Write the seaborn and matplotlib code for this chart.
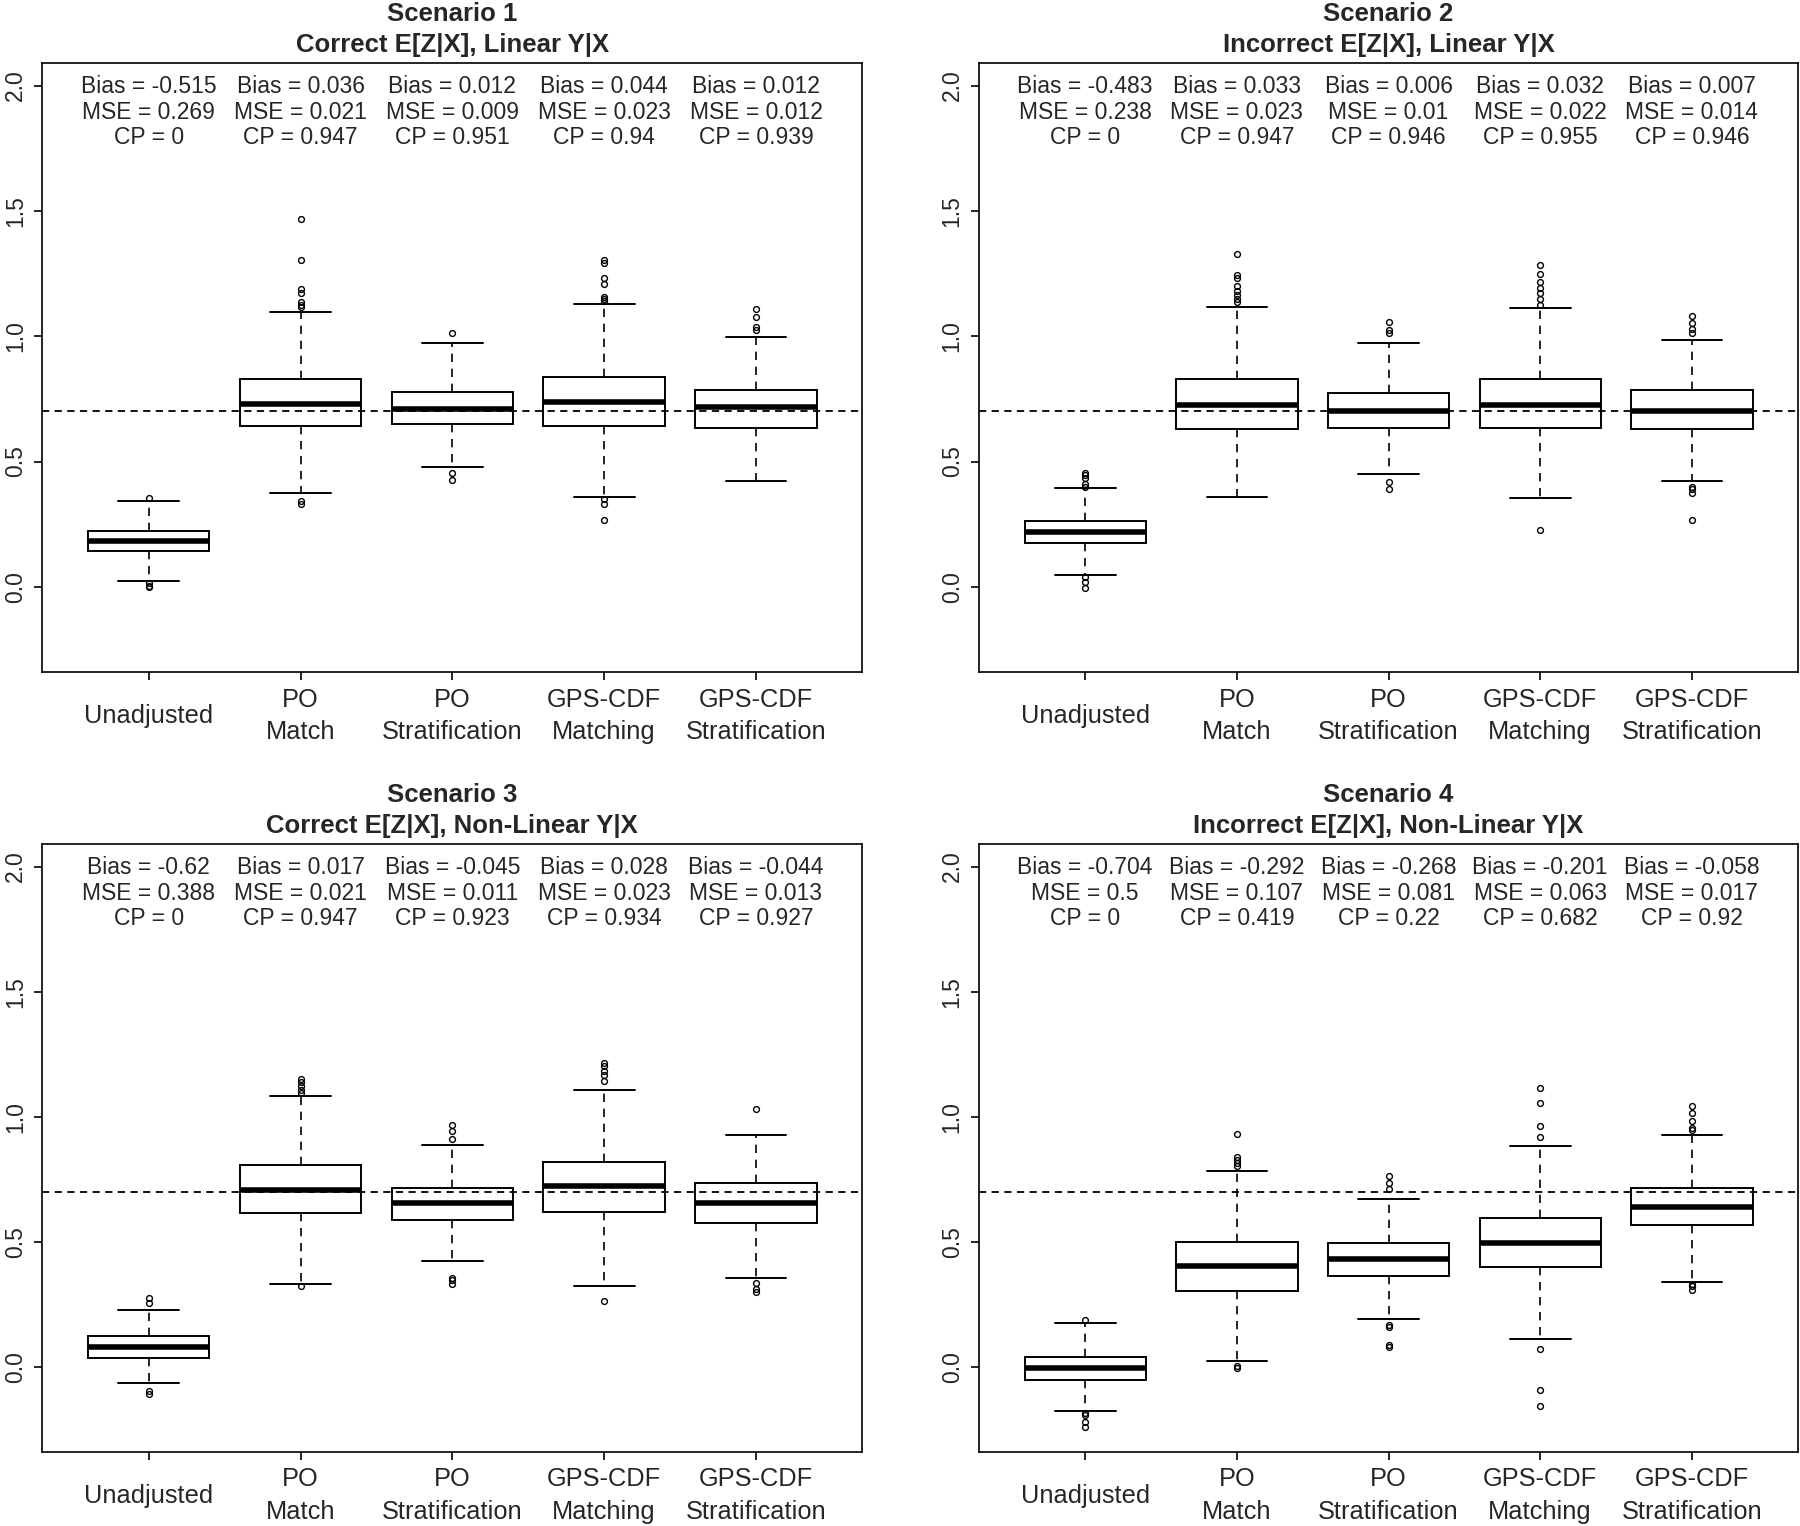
import matplotlib
matplotlib.use("Agg")
import matplotlib.pyplot as plt
import seaborn as sns

# methods compared in every panel
methods = ["Unadjusted", "PO\nMatch", "PO\nStratification",
           "GPS-CDF\nMatching", "GPS-CDF\nStratification"]

scenario_names = ["Scenario 1", "Scenario 2", "Scenario 3", "Scenario 4"]
scenario_desc = [
    "Correct E[Z|X], Linear Y|X",
    "Incorrect E[Z|X], Linear Y|X",
    "Correct E[Z|X], Non-Linear Y|X",
    "Incorrect E[Z|X], Non-Linear Y|X",
]

true_effect = 0.7

# box statistics (one row per scenario, one value per method)
whisker_low = [
    [0.024, 0.373, 0.480, 0.360, 0.423],
    [0.049, 0.360, 0.449, 0.355, 0.423],
    [-0.065, 0.333, 0.422, 0.322, 0.354],
    [-0.177, 0.024, 0.191, 0.111, 0.341],
]
q1 = [
    [0.144, 0.641, 0.648, 0.641, 0.633],
    [0.174, 0.629, 0.635, 0.635, 0.629],
    [0.036, 0.615, 0.589, 0.621, 0.577],
    [-0.054, 0.303, 0.365, 0.398, 0.566],
]
median = [
    [0.182, 0.730, 0.708, 0.736, 0.716],
    [0.218, 0.724, 0.703, 0.724, 0.703],
    [0.081, 0.708, 0.654, 0.722, 0.654],
    [-0.006, 0.403, 0.430, 0.496, 0.640],
]
q3 = [
    [0.224, 0.829, 0.779, 0.836, 0.787],
    [0.262, 0.829, 0.773, 0.829, 0.787],
    [0.123, 0.809, 0.714, 0.821, 0.735],
    [0.041, 0.501, 0.496, 0.597, 0.714],
]
whisker_high = [
    [0.344, 1.098, 0.972, 1.128, 0.997],
    [0.393, 1.115, 0.972, 1.111, 0.984],
    [0.227, 1.082, 0.889, 1.107, 0.927],
    [0.174, 0.784, 0.673, 0.885, 0.927],
]
outliers = [
    [[0.354, 0.014, 0.005, 0.0],
     [1.468, 1.305, 1.19, 1.171, 1.136, 1.123, 1.115, 0.341, 0.330],
     [1.014, 0.455, 0.425],
     [1.305, 1.294, 1.234, 1.21, 1.158, 1.147, 1.139, 0.352, 0.330, 0.265],
     [1.107, 1.076, 1.036, 1.025]],
    [[0.455, 0.447, 0.436, 0.412, 0.400, 0.041, 0.021, -0.003],
     [1.330, 1.245, 1.234, 1.199, 1.179, 1.163, 1.147, 1.136],
     [1.055, 1.024, 1.013, 0.420, 0.389],
     [1.283, 1.250, 1.218, 1.194, 1.171, 1.147, 1.123, 0.226],
     [1.079, 1.052, 1.028, 1.013, 0.400, 0.389, 0.373, 0.265]],
    [[0.275, 0.254, -0.098, -0.109],
     [1.150, 1.139, 1.123, 1.107, 1.095, 0.325],
     [0.968, 0.942, 0.910, 0.357, 0.346, 0.333],
     [1.213, 1.202, 1.182, 1.167, 1.144, 0.262],
     [1.030, 0.336, 0.313, 0.299]],
    [[0.186, -0.183, -0.191, -0.220, -0.240],
     [0.930, 0.839, 0.826, 0.815, 0.804, 0.005, -0.006],
     [0.763, 0.736, 0.712, 0.167, 0.160, 0.087, 0.081],
     [1.115, 1.054, 0.962, 0.918, 0.070, -0.093, -0.156],
     [1.044, 1.016, 0.981, 0.953, 0.946, 0.333, 0.325, 0.306]],
]

# performance summaries printed above the boxes
bias = [
    ["-0.515", "0.036", "0.012", "0.044", "0.012"],
    ["-0.483", "0.033", "0.006", "0.032", "0.007"],
    ["-0.62", "0.017", "-0.045", "0.028", "-0.044"],
    ["-0.704", "-0.292", "-0.268", "-0.201", "-0.058"],
]
mse = [
    ["0.269", "0.021", "0.009", "0.023", "0.012"],
    ["0.238", "0.023", "0.01", "0.022", "0.014"],
    ["0.388", "0.021", "0.011", "0.023", "0.013"],
    ["0.5", "0.107", "0.081", "0.063", "0.017"],
]
cp = [
    ["0", "0.947", "0.951", "0.94", "0.939"],
    ["0", "0.947", "0.946", "0.955", "0.946"],
    ["0", "0.947", "0.923", "0.934", "0.927"],
    ["0", "0.419", "0.22", "0.682", "0.92"],
]

sns.set_style("ticks")
plt.rcParams["font.family"] = ["Liberation Sans", "DejaVu Sans"]

fig = plt.figure(figsize=(18, 15.26), dpi=100)

# panel rectangles in figure fractions
rects = [
    [0.0236, 0.5596, 0.4554, 0.3991],
    [0.5439, 0.5596, 0.4550, 0.3991],
    [0.0236, 0.0485, 0.4554, 0.3984],
    [0.5439, 0.0485, 0.4550, 0.3984],
]

fs = 16.5
positions = list(range(1, len(methods) + 1))

for k in range(4):
    ax = fig.add_axes(rects[k])
    stats = []
    for j in range(len(methods)):
        stats.append({
            "whislo": whisker_low[k][j], "q1": q1[k][j], "med": median[k][j],
            "q3": q3[k][j], "whishi": whisker_high[k][j], "fliers": outliers[k][j],
        })
    ax.bxp(stats, positions=positions, widths=0.8, capwidths=0.4,
           showfliers=True, patch_artist=True,
           boxprops=dict(facecolor="white", edgecolor="black", linewidth=1.4),
           medianprops=dict(color="black", linewidth=4),
           whiskerprops=dict(color="black", linewidth=1.2, linestyle=(0, (5, 4))),
           capprops=dict(color="black", linewidth=1.4),
           flierprops=dict(marker="o", markersize=4.2, markerfacecolor="none",
                           markeredgecolor="black", markeredgewidth=1.0))
    ax.axhline(true_effect, color="black", linewidth=1.3, linestyle=(0, (4, 3)))

    for j, x in enumerate(positions):
        ax.text(x, 1.995, f"Bias = {bias[k][j]}", ha="center", va="center", fontsize=fs)
        ax.text(x, 1.894, f"MSE = {mse[k][j]}", ha="center", va="center", fontsize=fs)
        ax.text(x, 1.793, f"CP = {cp[k][j]}", ha="center", va="center", fontsize=fs)

    ax.set_xlim(0.3, 5.7)
    ax.set_ylim(-0.34, 2.09)
    ax.set_yticks([0.0, 0.5, 1.0, 1.5, 2.0])
    ax.set_yticklabels(["0.0", "0.5", "1.0", "1.5", "2.0"], rotation=90,
                       va="center", fontsize=fs)
    ax.set_xticks(positions)
    ax.set_xticklabels(methods, fontsize=18.3, linespacing=1.45)
    for lab in ax.get_xticklabels():
        lab.set_va("center")
    ax.tick_params(axis="x", length=6, width=1.2, pad=25.5, color="black")
    ax.tick_params(axis="y", length=6, width=1.2, pad=5, color="black")
    for sp in ax.spines.values():
        sp.set_color("black")
        sp.set_linewidth(1.2)
        sp.set_visible(True)

    ax.text(0.5, 1.081, scenario_names[k], transform=ax.transAxes, ha="center",
            va="center", fontsize=18.5, fontweight="bold")
    ax.text(0.5, 1.030, scenario_desc[k], transform=ax.transAxes, ha="center",
            va="center", fontsize=18.5, fontweight="bold")

fig.savefig("out.png", dpi=100, facecolor="white")
